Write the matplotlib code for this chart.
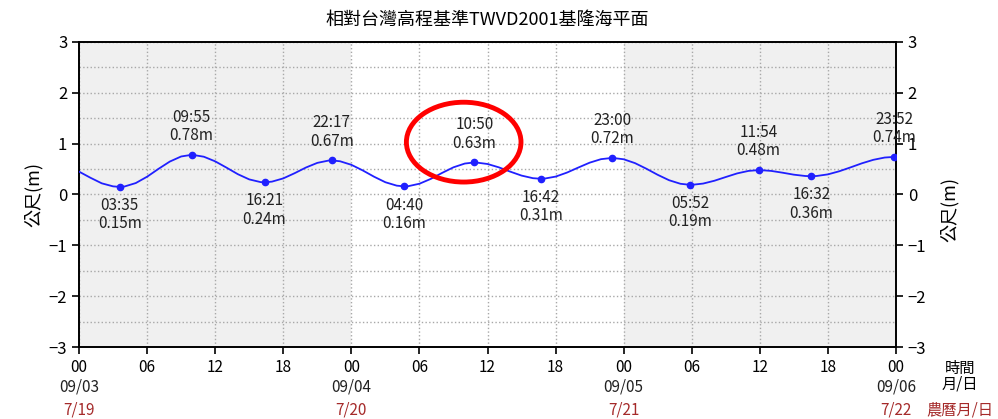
import numpy as np
import matplotlib
matplotlib.use('Agg')
import matplotlib.pyplot as plt
from matplotlib.patches import Ellipse
import matplotlib.transforms as mtransforms

plt.rcParams['font.family'] = ['Noto Sans CJK TC', 'DejaVu Sans']

# tide curve, hours since 09/03 00:00
curve_hours = [0, 1, 2, 3, 3.583, 4, 5, 6, 7, 8, 9, 9.917, 10, 11, 12, 13, 14, 15, 16, 16.35,
               17, 18, 19, 20, 21, 22, 22.283, 23, 24, 25, 26, 27, 28, 28.667, 29, 30, 31, 32,
               33, 34, 34.833, 35, 36, 37, 38, 39, 40, 40.7, 41, 42, 43, 44, 45, 46, 47, 48,
               49, 50, 51, 52, 53, 53.867, 54, 55, 56, 57, 58, 59, 59.9, 60, 61, 62, 63, 64,
               64.533, 65, 66, 67, 68, 69, 70, 71, 71.867, 72]
curve_level = [0.45, 0.33, 0.22, 0.16, 0.15, 0.157, 0.225, 0.35, 0.504, 0.648, 0.748, 0.78,
               0.78, 0.743, 0.652, 0.528, 0.399, 0.297, 0.244, 0.24,
               0.253, 0.317, 0.419, 0.531, 0.622, 0.668, 0.67, 0.654, 0.584, 0.474, 0.35,
               0.241, 0.174, 0.16, 0.163, 0.212, 0.307, 0.425,
               0.535, 0.609, 0.63, 0.629, 0.60, 0.534, 0.45, 0.372, 0.321, 0.31, 0.312,
               0.352, 0.431, 0.53, 0.626, 0.695, 0.72, 0.693,
               0.617, 0.507, 0.387, 0.281, 0.211, 0.19, 0.19, 0.215, 0.271, 0.344, 0.415,
               0.464, 0.48, 0.48, 0.464, 0.429, 0.39, 0.364,
               0.36, 0.364, 0.396, 0.457, 0.534, 0.614, 0.682, 0.727, 0.74, 0.74]

# high / low tide events
ext_hours = [3.583, 9.917, 16.35, 22.283, 28.667, 34.833, 40.7, 47.0, 53.867, 59.9, 64.533, 71.867]
ext_time = ['03:35', '09:55', '16:21', '22:17', '04:40', '10:50', '16:42', '23:00',
            '05:52', '11:54', '16:32', '23:52']
ext_level = [0.15, 0.78, 0.24, 0.67, 0.16, 0.63, 0.31, 0.72, 0.19, 0.48, 0.36, 0.74]
ext_high = [False, True, False, True, False, True, False, True, False, True, False, True]

tick_hours = list(range(0, 73, 6))
tick_labels = ['00', '06', '12', '18'] * 3 + ['00']
day_hours = [0, 24, 48, 72]
solar_dates = ['09/03', '09/04', '09/05', '09/06']
lunar_dates = ['7/19', '7/20', '7/21', '7/22']

fig = plt.figure(figsize=(9.98, 4.19), dpi=100)
ax = fig.add_axes([0.0792, 0.1718, 0.8186, 0.728])

for d0, shade in [(0, True), (24, False), (48, True)]:
    if shade:
        ax.axvspan(d0, d0 + 24, color='#f0f0f0', zorder=0, lw=0)

ax.plot(curve_hours, curve_level, color='#2020ff', lw=1.3, zorder=3)
ax.plot(ext_hours, ext_level, 'o', color='#2020ff', ms=4.5, zorder=4)

for h, t, v, hi in zip(ext_hours, ext_time, ext_level, ext_high):
    if hi:
        ax.text(h, v + 0.21, t + '\n' + v.__format__('.2f') + 'm', ha='center', va='bottom',
                fontsize=11, color='#222222', linespacing=1.1, zorder=5)
    else:
        ax.text(h, v - 0.2, t + '\n' + v.__format__('.2f') + 'm', ha='center', va='top',
                fontsize=11, color='#222222', linespacing=1.1, zorder=5)

ax.set_xlim(0, 72)
ax.set_ylim(-3, 3)
ax.set_xticks(tick_hours)
ax.set_xticklabels(tick_labels, fontsize=11)
ax.set_yticks(range(-3, 4))
ax.set_yticks(np.arange(-3, 3.01, 0.5), minor=True)
ax.tick_params(axis='y', which='minor', length=0)
ax.tick_params(axis='both', labelsize=12, length=5, width=1.2)
ax.tick_params(axis='x', labelsize=11)
ax.tick_params(axis='y', right=True, labelright=True)
ax.grid(True, which='both', ls=':', color='#a8a8a8', lw=1)
for sp in ax.spines.values():
    sp.set_linewidth(1.4)

ax.set_ylabel('公尺(m)', fontsize=13)
ax.text(1.066, 0.45, '公尺(m)', rotation=90, fontsize=13, ha='center', va='center',
        transform=ax.transAxes)
ax.set_title('相對台灣高程基準TWVD2001基隆海平面', fontsize=13, pad=12)

trans = mtransforms.blended_transform_factory(ax.transData, ax.transAxes)
for h, sd, ld in zip(day_hours, solar_dates, lunar_dates):
    ax.text(h, -0.13, sd, transform=trans, ha='center', va='center', fontsize=11, color='#222222')
    ax.text(h, -0.205, ld, transform=trans, ha='center', va='center', fontsize=11, color='#a52a2a')

ax.text(1.078, -0.07, '時間', transform=ax.transAxes, ha='center', va='center', fontsize=11)
ax.text(1.078, -0.12, '月/日', transform=ax.transAxes, ha='center', va='center', fontsize=11)
ax.text(1.078, -0.205, '農曆月/日', transform=ax.transAxes, ha='center', va='center',
        fontsize=11, color='#a52a2a')

ax.add_patch(Ellipse((33.9, 1.03), 10.1, 1.57, fill=False, ec='red', lw=3.5, zorder=6))

fig.savefig('out.png', dpi=100)
